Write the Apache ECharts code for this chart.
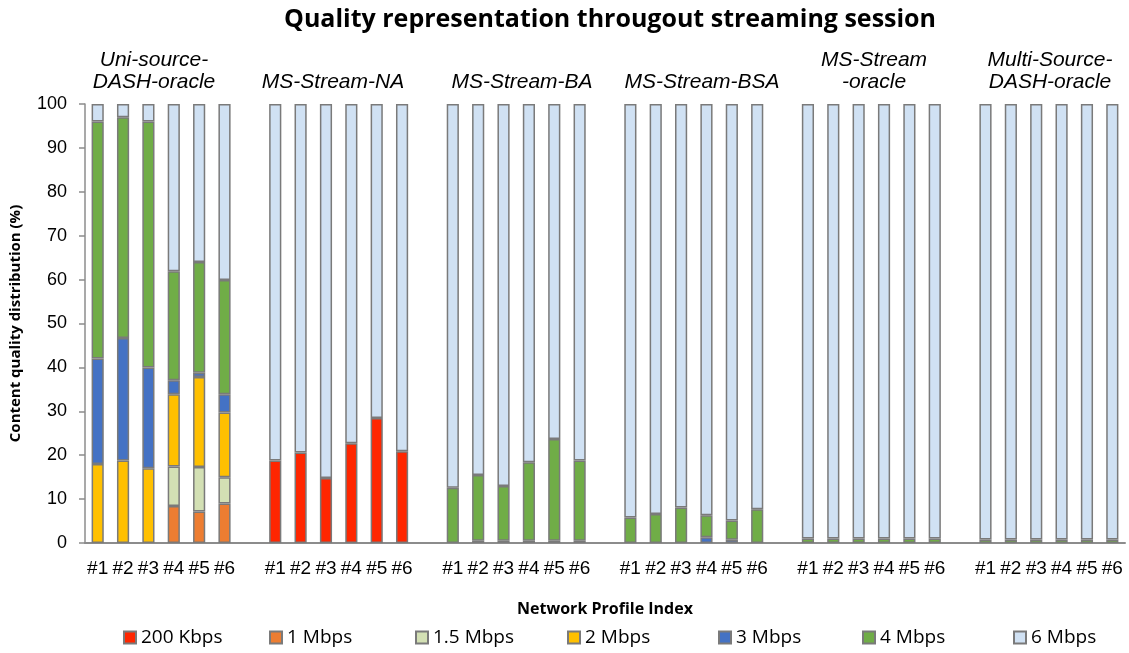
<!DOCTYPE html>
<html>
<head>
<meta charset="utf-8">
<title>Quality representation</title>
<script src="https://cdn.jsdelivr.net/npm/echarts@6/dist/echarts.min.js"></script>
<style>
    html, body { margin: 0; padding: 0; background: #fff; }
    #chart { width: 1129px; height: 653px; }
</style>
</head>
<body>
<div id="chart"></div>
<script>
// 6 groups x 6 network profiles, values in %
const profiles = ["#1", "#2", "#3", "#4", "#5", "#6"]
const groups = ["Uni-source-\nDASH-oracle", "MS-Stream-NA", "MS-Stream-BA", "MS-Stream-BSA", "MS-Stream\n-oracle", "Multi-Source-\nDASH-oracle"]
const qualities = ["200 Kbps", "1 Mbps", "1.5 Mbps", "2 Mbps", "3 Mbps", "4 Mbps", "6 Mbps"]
const colors = ["#ff2600", "#ed7d31", "#d3e0b4", "#ffc000", "#4472c4", "#70ad47", "#d0e1f3"]

const kbps200 = [0, 0, 0, 0, 0, 0, 18.8, 20.6, 14.8, 22.7, 28.5, 20.9, 0, 0.5, 0.5, 0.5, 0.5, 0.5, 0, 0, 0, 0, 0, 0, 0, 0, 0, 0, 0, 0, 0, 0, 0, 0, 0, 0]
const mbps1 = [0, 0, 0, 8.4, 7.2, 9, 0, 0, 0, 0, 0, 0, 0, 0, 0, 0, 0, 0, 0, 0, 0, 0, 0, 0, 0, 0, 0, 0, 0, 0, 0, 0, 0, 0, 0, 0]
const mbps15 = [0, 0, 0, 9, 10.1, 6, 0, 0, 0, 0, 0, 0, 0, 0, 0, 0, 0, 0, 0, 0, 0, 0, 0, 0, 0, 0, 0, 0, 0, 0, 0, 0, 0, 0, 0, 0]
const mbps2 = [18, 18.8, 17, 16.5, 20.5, 14.7, 0, 0, 0, 0, 0, 0, 0, 0, 0, 0, 0, 0, 0, 0, 0, 0, 0, 0, 0, 0, 0, 0, 0, 0, 0, 0, 0, 0, 0, 0]
const mbps3 = [24, 27.9, 23, 3.2, 1, 4.2, 0, 0, 0, 0, 0, 0, 0, 0, 0, 0, 0, 0, 0, 0, 0, 1.3, 0.75, 0, 0, 0, 0, 0, 0, 0, 0, 0, 0, 0, 0, 0]
const mbps4 = [54, 50.3, 56, 24.8, 25.2, 26, 0, 0, 0, 0, 0, 0, 12.6, 15, 12.5, 17.9, 23.2, 18.3, 5.8, 6.6, 8.1, 5, 4.35, 7.7, 1, 1, 1, 1, 1, 1, 0.8, 0.8, 0.8, 0.8, 0.8, 0.8]
const mbps6 = [4, 3, 4, 38.1, 36, 40.1, 81.2, 79.4, 85.2, 77.3, 71.5, 79.1, 87.4, 84.5, 87, 81.6, 76.3, 81.2, 94.2, 93.4, 91.9, 93.7, 94.9, 92.3, 99, 99, 99, 99, 99, 99, 99.2, 99.2, 99.2, 99.2, 99.2, 99.2]

const seriesValues = [kbps200, mbps1, mbps15, mbps2, mbps3, mbps4, mbps6]

// one empty category between groups
const categories = []
groups.forEach((g, gi) => {
    if (gi > 0) categories.push("")
    profiles.forEach(p => categories.push(p))
})
function withGaps(values) {
    const out = []
    groups.forEach((g, gi) => {
        if (gi > 0) out.push("-")
        for (let i = 0; i < 6; i++) {
            const v = values[gi * 6 + i]
            out.push(v > 0 ? v : "-")
        }
    })
    return out
}

// group titles above the plot
const groupLabelX = [154, 333, 522, 702, 874, 1050]
const groupGraphics = groups.map((g, i) => ({
    type: "text",
    x: groupLabelX[i],
    y: g.indexOf("\n") >= 0 ? 49 : 71,
    style: {
        text: g,
        fill: "#000",
        font: "italic 21px 'Liberation Sans'",
        align: "center",
        lineHeight: 22
    }
}))

// legend items are spread evenly along the bottom
const legendLeft = [123, 269, 415, 567, 718, 862, 1013]
const legends = qualities.map((q, i) => ({
    left: legendLeft[i],
    top: 628,
    padding: 0,
    itemWidth: 12,
    itemHeight: 12,
    icon: "rect",
    data: [q],
    textStyle: { fontFamily: "Open Sans", fontSize: 19, color: "#000" }
}))

const myChart = echarts.init(document.getElementById("chart"), null, { renderer: "canvas" })
const option = {
    animation: false,
    title: {
        text: "Quality representation througout streaming session",
        left: 279,
        top: 2,
        textStyle: { fontFamily: "Open Sans", fontWeight: "bold", fontSize: 25, color: "#000" }
    },
    grid: { left: 85, right: 4, top: 104, bottom: 110 },
    legend: legends,
    xAxis: {
        type: "category",
        data: categories,
        name: "Network Profile Index",
        nameLocation: "middle",
        nameGap: 58,
        nameTextStyle: { fontFamily: "Open Sans", fontWeight: "bold", fontSize: 16, color: "#000" },
        axisLine: { lineStyle: { color: "#8c8c8c", width: 2 } },
        axisTick: { show: false },
        axisLabel: { interval: 0, margin: 16, fontFamily: "Liberation Sans", fontSize: 19, color: "#000" }
    },
    yAxis: {
        type: "value",
        min: 0,
        max: 100,
        interval: 10,
        name: "Content quality distribution (%)",
        nameLocation: "middle",
        nameGap: 62,
        nameTextStyle: { fontFamily: "Open Sans", fontWeight: "bold", fontSize: 15, color: "#000" },
        axisLine: { show: true, lineStyle: { color: "#8c8c8c", width: 1.5 } },
        axisTick: { show: true, length: 6, lineStyle: { color: "#8c8c8c", width: 1.5 } },
        splitLine: { show: false },
        axisLabel: { margin: 18, fontFamily: "Liberation Sans", fontSize: 18, color: "#000" }
    },
    series: qualities.map((q, i) => ({
        name: q,
        type: "bar",
        stack: "total",
        barWidth: "48%",
        data: withGaps(seriesValues[i]),
        itemStyle: { color: colors[i], borderColor: "#7a7a7a", borderWidth: 1.5 }
    })),
    graphic: { elements: groupGraphics }
}
myChart.setOption(option)
</script>
</body>
</html>
